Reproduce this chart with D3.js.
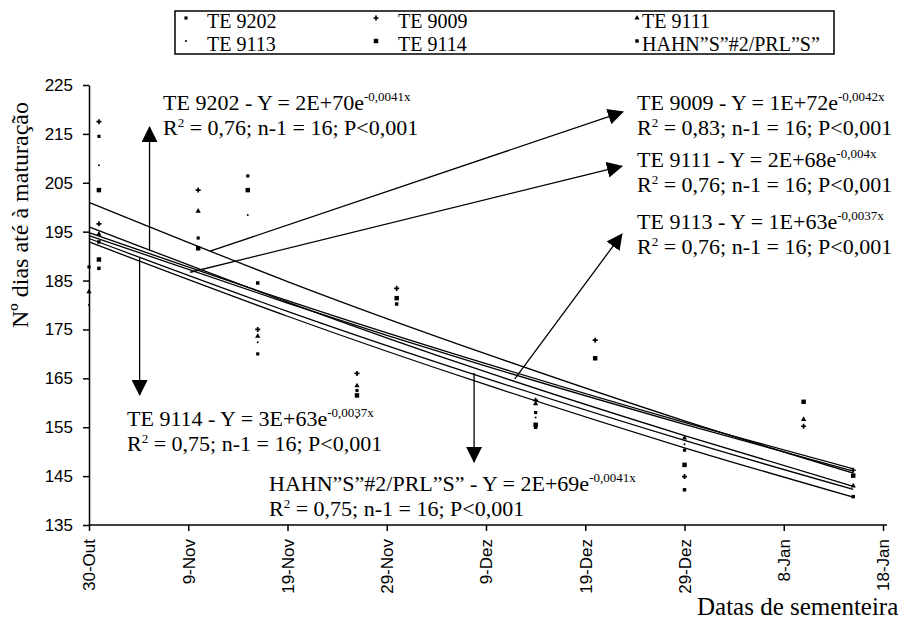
<!DOCTYPE html>
<html>
<head>
<meta charset="utf-8">
<script src="https://cdn.jsdelivr.net/npm/d3@7"></script>
<style>
body { margin: 0; background: #fff; }
text { fill: #000; }
.axis path, .axis line { stroke: #000; stroke-width: 1.5px; }
.axis text { font-family: "Liberation Sans", Arial, sans-serif; font-size: 17px; }
.serif { font-family: "Liberation Serif", "Times New Roman", "DejaVu Serif", serif; font-size: 22px; }
</style>
</head>
<body>
<div id="chart"></div>
<script>
// x axis: seeding dates (ticks every 10 days)
var tickDates = ["2001-10-30", "2001-11-09", "2001-11-19", "2001-11-29", "2001-12-09",
                 "2001-12-19", "2001-12-29", "2002-01-08", "2002-01-18"];
var tickLabels = ["30-Out", "9-Nov", "19-Nov", "29-Nov", "9-Dez", "19-Dez", "29-Dez", "8-Jan", "18-Jan"];
var yTicks = [135, 145, 155, 165, 175, 185, 195, 205, 215, 225];

var seriesNames = ["TE 9202", "TE 9009", "TE 9111", "TE 9113", "TE 9114", "HAHN”S”#2/PRL”S”"];

// observed points [date, days to maturity]
var te9202 = [["2001-10-30", 187.8], ["2001-10-31", 214.5], ["2001-11-10", 193.7], ["2001-11-15", 206.4],
              ["2001-11-16", 170.0], ["2001-11-26", 162.5], ["2001-12-14", 158.0], ["2001-12-29", 150.3]];
var te9009 = [["2001-10-31", 217.5], ["2001-10-31", 196.6], ["2001-11-10", 203.5], ["2001-11-16", 175.0],
              ["2001-11-26", 166.0], ["2001-11-30", 183.4], ["2001-12-14", 160.5], ["2001-12-20", 172.8],
              ["2001-12-29", 144.9], ["2002-01-10", 155.2], ["2002-01-15", 146.2]];
var te9111 = [["2001-10-30", 182.7], ["2001-10-31", 194.5], ["2001-11-10", 199.2], ["2001-11-16", 173.6],
              ["2001-11-26", 163.5], ["2001-12-14", 159.8], ["2001-12-29", 152.8], ["2002-01-10", 156.6],
              ["2002-01-15", 143.0]];
var te9113 = [["2001-10-30", 180.0], ["2001-10-31", 208.6], ["2001-11-15", 198.4], ["2001-11-16", 172.4],
              ["2001-11-26", 157.0], ["2001-12-14", 157.0], ["2001-12-29", 151.5]];
var te9114 = [["2001-10-31", 203.5], ["2001-10-31", 189.3], ["2001-11-10", 191.6], ["2001-11-15", 203.5],
              ["2001-11-26", 161.5], ["2001-11-30", 181.4], ["2001-12-14", 155.5], ["2001-12-20", 169.1],
              ["2001-12-29", 147.3], ["2002-01-10", 160.2], ["2002-01-15", 145.1]];
var hahn = [["2001-10-31", 192.9], ["2001-10-31", 187.5], ["2001-11-16", 184.5], ["2001-11-30", 180.2],
            ["2001-12-14", 155.0], ["2001-12-29", 142.2], ["2002-01-15", 140.8]];

// exponential trend lines at a few dates
var trendDates = ["2001-10-30", "2001-11-19", "2001-12-09", "2001-12-29", "2002-01-15"];
var trend9202 = [196.0, 180.6, 166.3, 153.3, 142.9];
var trend9009 = [201.0, 184.8, 170.0, 156.3, 145.6];
var trend9111 = [193.6, 178.7, 165.0, 152.3, 142.3];
var trend9113 = [194.8, 180.9, 168.0, 156.0, 146.5];
var trend9114 = [194.2, 180.4, 167.5, 155.6, 146.0];
var trendHahn = [192.9, 177.7, 163.7, 150.8, 140.7];

// arrows: [days after 30-Out, value] from -> to
var arrowFrom = [[6.1, 191.2], [5.1, 189.6], [38.8, 166.1], [12.2, 191.0], [10.2, 186.7], [42.9, 164.9]];
var arrowTo   = [[6.1, 216.4], [5.1, 161.6], [38.8, 147.9], [53.8, 219.5], [53.7, 208.4], [53.7, 194.5]];

var eqLabels = [
  {name: "TE 9202", eq: "2E+70e", exp: "-0,0041x", r2: "0,76"},
  {name: "TE 9114", eq: "3E+63e", exp: "-0,0037x", r2: "0,75"},
  {name: "HAHN”S”#2/PRL”S”", eq: "2E+69e", exp: "-0,0041x", r2: "0,75"},
  {name: "TE 9009", eq: "1E+72e", exp: "-0,0042x", r2: "0,83"},
  {name: "TE 9111", eq: "2E+68e", exp: "-0,004x", r2: "0,76"},
  {name: "TE 9113", eq: "1E+63e", exp: "-0,0037x", r2: "0,76"}
];
var eqPos = [[163, 110], [127, 426], [269, 491], [637, 110], [637, 167], [637, 229]];

var W = 901, H = 623;
var parse = d3.timeParse("%Y-%m-%d");
var t0 = parse(tickDates[0]);

var x = d3.scaleTime().domain([parse(tickDates[0]), parse(tickDates[tickDates.length - 1])]).range([89, 883]);
var y = d3.scaleLinear().domain([135, 225]).range([525, 85]);

function xDay(d) { return x(new Date(t0.getTime() + d * 864e5)); }

var svg = d3.select("#chart").append("svg").attr("width", W).attr("height", H);

svg.append("defs").append("marker")
  .attr("id", "head")
  .attr("viewBox", "0 0 16 16")
  .attr("refX", 15).attr("refY", 8)
  .attr("markerWidth", 16).attr("markerHeight", 16)
  .attr("markerUnits", "userSpaceOnUse")
  .attr("orient", "auto")
  .append("path").attr("d", "M0,0L16,8L0,16Z").attr("fill", "#000");

// axes
var xAxis = d3.axisBottom(x)
  .tickValues(tickDates.map(parse))
  .tickFormat(function(d, i) { return tickLabels[i]; })
  .tickSizeInner(6).tickSizeOuter(0);
var gx = svg.append("g").attr("class", "axis").attr("transform", "translate(0,525)").call(xAxis);
gx.select(".domain").attr("d", "M89,0H887");
gx.selectAll("text")
  .attr("transform", "rotate(-90)")
  .attr("x", -14).attr("y", 0).attr("dy", "0.35em")
  .style("text-anchor", "end");

var yAxis = d3.axisLeft(y).tickValues(yTicks).tickSizeInner(6).tickSizeOuter(0).tickPadding(10);
svg.append("g").attr("class", "axis").attr("transform", "translate(89,0)").call(yAxis);

svg.append("text").attr("class", "serif")
  .attr("transform", "translate(28,215) rotate(-90)")
  .attr("text-anchor", "middle").style("font-size", "24px")
  .text("Nº dias até à maturação");

svg.append("text").attr("class", "serif")
  .attr("x", 697).attr("y", 615).style("font-size", "25px")
  .text("Datas de sementeira");

// trend lines
var trends = [trend9202, trend9009, trend9111, trend9113, trend9114, trendHahn];
var line = d3.line()
  .x(function(d, i) { return x(parse(trendDates[i])); })
  .y(function(d) { return y(d); })
  .curve(d3.curveNatural);
svg.selectAll(".trend").data(trends).enter().append("path")
  .attr("class", "trend")
  .attr("d", line)
  .attr("fill", "none").attr("stroke", "#000").attr("stroke-width", 1.3);

// point markers
var shapes = [
  d3.symbol().type(d3.symbolSquare).size(10),
  d3.symbol().type(d3.symbolCross).size(14),
  d3.symbol().type(d3.symbolTriangle).size(12),
  d3.symbol().type(d3.symbolCircle).size(3),
  d3.symbol().type(d3.symbolSquare).size(20),
  d3.symbol().type(d3.symbolSquare).size(12)
];
var allSeries = [te9202, te9009, te9111, te9113, te9114, hahn];
allSeries.forEach(function(s, k) {
  svg.append("g").selectAll("path").data(s).enter().append("path")
    .attr("d", shapes[k])
    .attr("transform", function(d) { return "translate(" + x(parse(d[0])) + "," + y(d[1]) + ")"; })
    .attr("fill", "#000");
});

// arrows
svg.selectAll(".arrow").data(arrowFrom).enter().append("line")
  .attr("class", "arrow")
  .attr("x1", function(d) { return xDay(d[0]); })
  .attr("y1", function(d) { return y(d[1]); })
  .attr("x2", function(d, i) { return xDay(arrowTo[i][0]); })
  .attr("y2", function(d, i) { return y(arrowTo[i][1]); })
  .attr("stroke", "#000").attr("stroke-width", 1.3)
  .attr("marker-end", "url(#head)");

// equation labels
eqLabels.forEach(function(e, i) {
  var px = eqPos[i][0], py = eqPos[i][1];
  var t1 = svg.append("text").attr("class", "serif").attr("x", px).attr("y", py);
  t1.append("tspan").text(e.name + " - Y = " + e.eq);
  t1.append("tspan").attr("dy", -9).style("font-size", "13px").text(e.exp);
  var t2 = svg.append("text").attr("class", "serif").attr("x", px).attr("y", py + 25);
  t2.append("tspan").text("R");
  t2.append("tspan").attr("dy", -8).style("font-size", "13px").text("2");
  t2.append("tspan").attr("dy", 8).text(" = " + e.r2 + "; n-1 = 16; P<0,001");
});

// legend
var legPos = [[186, 207, 18, 28], [376, 398, 18, 28], [637, 642, 18, 28],
              [186, 207, 41, 51], [376, 398, 41, 51], [637, 642, 41, 51]];
var legOrder = [0, 1, 2, 3, 4, 5];
svg.append("rect").attr("x", 175).attr("y", 11).attr("width", 659).attr("height", 43)
  .attr("fill", "#fff").attr("stroke", "#000").attr("stroke-width", 1.5);
var leg = svg.append("g").selectAll("g").data(legOrder).enter().append("g");
leg.append("path")
  .attr("d", function(k) { return shapes[k](); })
  .attr("transform", function(k) { return "translate(" + legPos[k][0] + "," + legPos[k][2] + ")"; })
  .attr("fill", "#000");
leg.append("text").attr("class", "serif")
  .style("font-size", "20px")
  .attr("x", function(k) { return legPos[k][1]; })
  .attr("y", function(k) { return legPos[k][3]; })
  .text(function(k) { return seriesNames[k]; });
</script>
</body>
</html>
